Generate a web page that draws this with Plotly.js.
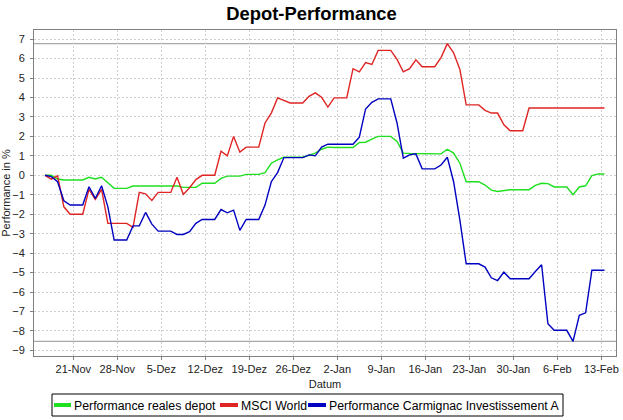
<!DOCTYPE html>
<html>
<head>
<meta charset="utf-8">
<script src="https://cdn.plot.ly/plotly-3.0.1.min.js"></script>
<style>
html,body{margin:0;padding:0;background:#fff;}
#chart{width:623px;height:420px;}
</style>
</head>
<body>
<div id="chart"></div>
<script>
// ---- Data ----
var dates = [
"2009-11-16","2009-11-17","2009-11-18","2009-11-19","2009-11-20","2009-11-21","2009-11-22","2009-11-23","2009-11-24","2009-11-25",
"2009-11-26","2009-11-27","2009-11-28","2009-11-29","2009-11-30","2009-12-01","2009-12-02","2009-12-03","2009-12-04","2009-12-05",
"2009-12-06","2009-12-07","2009-12-08","2009-12-09","2009-12-10","2009-12-11","2009-12-12","2009-12-13","2009-12-14","2009-12-15",
"2009-12-16","2009-12-17","2009-12-18","2009-12-19","2009-12-20","2009-12-21","2009-12-22","2009-12-23","2009-12-24","2009-12-25",
"2009-12-26","2009-12-27","2009-12-28","2009-12-29","2009-12-30","2009-12-31","2010-01-01","2010-01-02","2010-01-03","2010-01-04",
"2010-01-05","2010-01-06","2010-01-07","2010-01-08","2010-01-09","2010-01-10","2010-01-11","2010-01-12","2010-01-13","2010-01-14",
"2010-01-15","2010-01-16","2010-01-17","2010-01-18","2010-01-19","2010-01-20","2010-01-21","2010-01-22","2010-01-23","2010-01-24",
"2010-01-25","2010-01-26","2010-01-27","2010-01-28","2010-01-29","2010-01-30","2010-01-31","2010-02-01","2010-02-02","2010-02-03",
"2010-02-04","2010-02-05","2010-02-06","2010-02-07","2010-02-08","2010-02-09","2010-02-10","2010-02-11","2010-02-12","2010-02-13"
];

var depot = [
0,0,-0.19,-0.24,-0.24,-0.24,-0.24,-0.10,-0.19,-0.10,
-0.38,-0.67,-0.67,-0.67,-0.55,-0.55,-0.55,-0.55,-0.55,-0.55,
-0.55,-0.55,-0.62,-0.62,-0.62,-0.41,-0.41,-0.41,-0.16,-0.04,
-0.04,-0.04,0.05,0.05,0.05,0.14,0.62,0.79,0.93,0.93,
0.93,0.93,1.03,1.14,1.34,1.45,1.43,1.43,1.43,1.43,
1.69,1.70,1.86,2.00,2.00,2.00,1.74,1.14,1.12,1.12,
1.12,1.12,1.12,1.10,1.34,1.14,0.62,-0.33,-0.33,-0.33,
-0.50,-0.76,-0.83,-0.78,-0.74,-0.74,-0.74,-0.74,-0.52,-0.41,
-0.43,-0.60,-0.60,-0.60,-1.00,-0.60,-0.54,-0.02,0.07,0.07
];

var msci = [
0,-0.20,-0.03,-1.62,-2.00,-2.00,-2.00,-0.72,-1.24,-0.72,
-2.47,-2.47,-2.47,-2.47,-2.68,-0.88,-0.95,-1.29,-0.88,-0.88,
-0.88,-0.10,-0.98,-0.64,-0.22,0,0,0,1.24,1.00,
2.00,1.19,1.45,1.45,1.45,2.69,3.20,3.98,3.84,3.72,
3.72,3.72,4.06,4.24,4.01,3.51,3.98,3.98,3.98,5.48,
5.32,5.79,5.70,6.42,6.42,6.42,5.96,5.32,5.48,5.94,
5.58,5.58,5.58,6.05,6.77,6.30,5.44,3.62,3.62,3.62,
3.34,3.20,3.20,2.60,2.29,2.29,2.29,3.46,3.46,3.46,
3.46,3.46,3.46,3.46,3.46,3.46,3.46,3.46,3.46,3.46
];

var carmignac = [
0,-0.07,-0.33,-1.31,-1.53,-1.53,-1.53,-0.59,-1.19,-0.54,
-1.62,-3.33,-3.33,-3.33,-2.60,-2.60,-1.91,-2.51,-2.87,-2.87,
-2.87,-3.04,-3.04,-2.90,-2.47,-2.27,-2.27,-2.27,-1.76,-1.93,
-1.79,-2.83,-2.27,-2.27,-2.27,-1.53,-0.33,0.14,0.91,0.91,
0.91,0.91,1.05,1.00,1.45,1.60,1.60,1.60,1.60,1.60,
1.96,3.41,3.75,3.93,3.93,3.93,2.69,0.88,1.05,1.10,
0.33,0.33,0.33,0.53,0.93,-0.33,-2.31,-4.55,-4.55,-4.55,
-4.72,-5.27,-5.41,-4.98,-5.32,-5.32,-5.32,-5.32,-4.95,-4.60,
-7.63,-7.97,-7.97,-7.97,-8.54,-7.20,-7.07,-4.88,-4.88,-4.88
];

var seriesNames = ["Performance reales depot", "MSCI World", "Performance Carmignac Investissement A"];
var seriesColors = ["#1ee01e", "#e02424", "#0000c0"];

var tickDates = ["2009-11-21","2009-11-28","2009-12-05","2009-12-12","2009-12-19","2009-12-26","2010-01-02",
                 "2010-01-09","2010-01-16","2010-01-23","2010-01-30","2010-02-06","2010-02-13"];
var tickLabels = ["21-Nov","28-Nov","5-Dez","12-Dez","19-Dez","26-Dez","2-Jan",
                  "9-Jan","16-Jan","23-Jan","30-Jan","6-Feb","13-Feb"];

// ---- Layout geometry ----
var W = 623, H = 420;
var M = {l: 34, r: 7, t: 30, b: 64};
var PW = W - M.l - M.r, PH = H - M.t - M.b;
function px2x(px){ return (px - M.l) / PW; }
function py2y(py){ return (H - M.b - py) / PH; }

var xs = dates.map(function(d){ return d + " 12:00"; });
var allSeries = [depot, msci, carmignac];

var traces = allSeries.map(function(vals, k){
  return {
    type: "scatter", mode: "lines", x: xs, y: vals,
    name: seriesNames[k],
    line: {color: seriesColors[k], width: 1.4},
    showlegend: false, hoverinfo: "x+y+name"
  };
});

var allVals = [].concat(depot, msci, carmignac);
var vMax = Math.max.apply(null, allVals);
var vMin = Math.min.apply(null, allVals);

var shapes = [
  {type:"line", xref:"paper", yref:"y", x0:0, x1:1, y0:vMax, y1:vMax, line:{color:"#a8a8a8", width:1.2}, layer:"below"},
  {type:"line", xref:"paper", yref:"y", x0:0, x1:1, y0:vMin, y1:vMin, line:{color:"#a8a8a8", width:1.2}, layer:"below"},
  // legend box
  {type:"rect", xref:"paper", yref:"paper", x0:px2x(52), x1:px2x(563), y0:py2y(416), y1:py2y(394),
   line:{color:"#000000", width:1}, fillcolor:"rgba(255,255,255,0)"}
];
var annotations = [];
var legBarX = [[54, 71], [220, 238], [308, 326]];
var legTextX = [73, 240, 328];
for (var k = 0; k < 3; k++) {
  shapes.push({type:"line", xref:"paper", yref:"paper", x0:px2x(legBarX[k][0]), x1:px2x(legBarX[k][1]),
    y0:py2y(405), y1:py2y(405), line:{color:seriesColors[k], width:4}});
  annotations.push({xref:"paper", yref:"paper", x:px2x(legTextX[k]), y:py2y(405.5), xanchor:"left", yanchor:"middle",
    text: seriesNames[k], showarrow:false, borderpad:0,
    font:{family:"Liberation Sans, Arial, sans-serif", size:12.3, color:"#000"}});
}

var axisFont = {family:"Liberation Sans, Arial, sans-serif", size:11, color:"#222"};

var layout = {
  width: W, height: H,
  margin: M,
  paper_bgcolor: "#ffffff", plot_bgcolor: "#ffffff",
  showlegend: false,
  title: {text: "Depot-Performance", x: 0.5, xanchor: "center", y: 1 - 14/H, yanchor: "middle",
          xref: "container", yref: "container",
          font: {family: "Liberation Sans, Arial, sans-serif", size: 18.4, weight: "bold", color: "#000"}},
  xaxis: {
    type: "date",
    range: ["2009-11-14 18:00", "2010-02-15 08:00"],
    tickmode: "array", tickvals: tickDates, ticktext: tickLabels,
    ticks: "outside", ticklen: 3, tickcolor: "#808080",
    showline: true, linecolor: "#808080", linewidth: 1, mirror: true,
    showgrid: true, gridcolor: "#cfcfcf", griddash: "2px,2px", gridwidth: 1,
    zeroline: false, tickfont: axisFont,
    title: {text: "Datum", font: axisFont, standoff: 6}
  },
  yaxis: {
    range: [-9.29, 7.47],
    tickmode: "linear", tick0: 0, dtick: 1,
    ticks: "outside", ticklen: 3, tickcolor: "#808080",
    showline: true, linecolor: "#808080", linewidth: 1, mirror: true,
    showgrid: true, gridcolor: "#cfcfcf", griddash: "2px,2px", gridwidth: 1,
    zeroline: false, tickfont: axisFont, ticklabelstandoff: 3,
    title: {text: "Performance in %", font: axisFont, standoff: 3}
  },
  shapes: shapes,
  annotations: annotations
};

Plotly.newPlot("chart", traces, layout, {displayModeBar: false, staticPlot: true});
</script>
</body>
</html>
